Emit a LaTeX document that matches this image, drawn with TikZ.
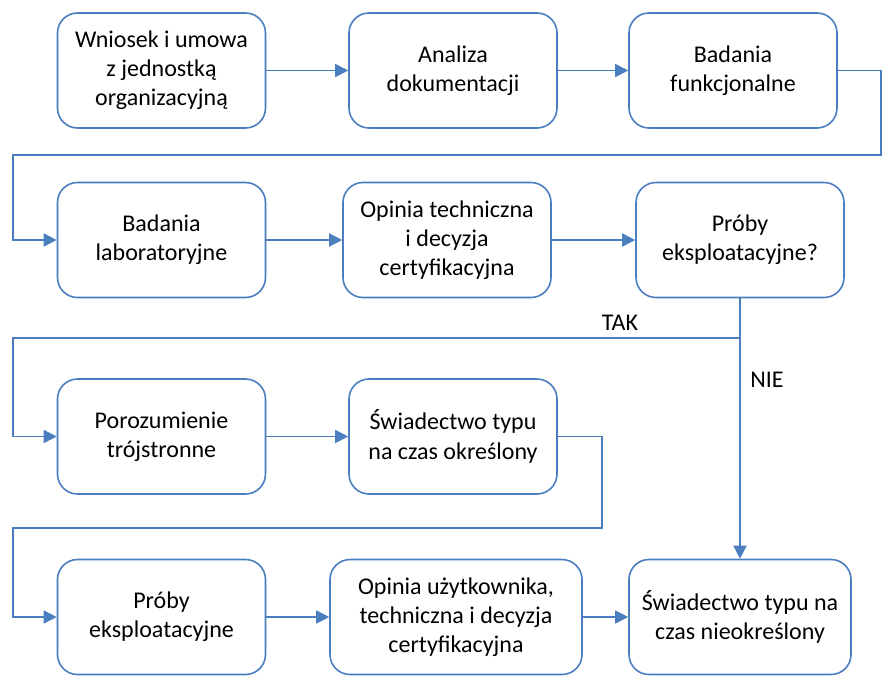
\documentclass[tikz,border=0pt]{standalone}
\usepackage{fontspec}
\setmainfont{Carlito}
\usetikzlibrary{arrows.meta}

\definecolor{flowblue}{RGB}{74,126,190}

\tikzset{
  proc/.style={draw=flowblue, line width=0.8pt, rounded corners=10pt,
    minimum width=104pt, minimum height=57.5pt, inner sep=0pt, align=center,
    font=\fontsize{12}{14.6}\selectfont},
  flow/.style={draw=flowblue, line width=0.8pt,
    -{Triangle[length=6.5pt,width=6.5pt]}},
  lab/.style={font=\fontsize{12}{14.6}\selectfont}
}

\begin{document}
\begin{tikzpicture}[x=0.5pt, y=-0.5pt]

\useasboundingbox (0,0) rectangle (887,675);

% Row 1
\node[proc] (wniosek) at (161.5,70.5) {Wniosek i umowa\\z jednostką\\organizacyjną};
\node[proc] (analiza) at (453,70.5) {Analiza\\dokumentacji};
\node[proc] (badfun) at (733,70.5) {Badania\\funkcjonalne};

% Row 2
\node[proc] (badlab) at (161.5,240) {Badania\\laboratoryjne};
\node[proc] (opinia) at (447,240) {Opinia techniczna\\i decyzja\\certyfikacyjna};
\node[proc] (proby) at (740,240) {Próby\\eksploatacyjne?};

% Row 3
\node[proc] (porozum) at (161.5,436.5) {Porozumienie\\trójstronne};
\node[proc] (swokr) at (453,436.5) {Świadectwo typu\\na czas określony};

% Row 4
\node[proc] (probyeks) at (161.5,617) {Próby\\eksploatacyjne};
\node[proc, minimum width=126pt] (opuzyt) at (456,617) {Opinia użytkownika,\\techniczna i decyzja\\certyfikacyjna};
\node[proc, minimum width=111pt] (swnieokr) at (740,617) {Świadectwo typu na\\czas nieokreślony};

% Bends of the connectors
\coordinate (k1) at (881,155);
\coordinate (k2) at (13,155);
\coordinate (k3) at (13,338);
\coordinate (k4) at (602,528);
\coordinate (k5) at (13,528);

% Connectors
\draw[flow] (wniosek) -- (analiza);
\draw[flow] (analiza) -- (badfun);
\draw[flow] (badfun.east) -| (k1) -- (k2) |- (badlab.west);
\draw[flow] (badlab) -- (opinia);
\draw[flow] (opinia) -- (proby);
\draw[flow] (proby.south) |- (k3) |- (porozum.west);
\draw[flow] (proby.south) -- (swnieokr.north);
\draw[flow] (porozum) -- (swokr);
\draw[flow] (swokr.east) -| (k4) -- (k5) |- (probyeks.west);
\draw[flow] (probyeks) -- (opuzyt);
\draw[flow] (opuzyt) -- (swnieokr);

% Branch labels
\node[lab] (tak) at (620,323) {TAK};
\node[lab] (nie) at (767,380) {NIE};

\end{tikzpicture}
\end{document}
